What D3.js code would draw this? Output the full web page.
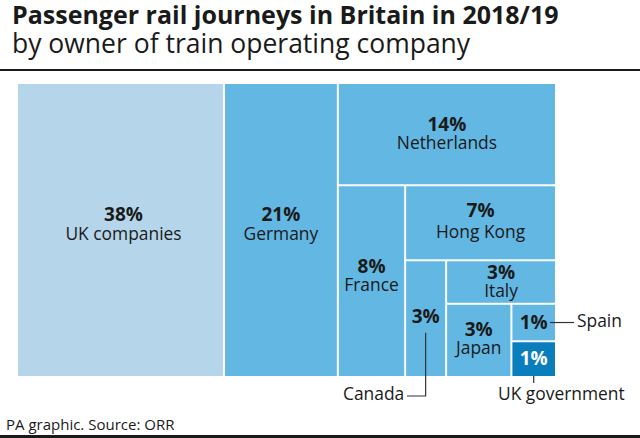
<!DOCTYPE html>
<html>
<head>
<meta charset="utf-8">
<script src="https://cdn.jsdelivr.net/npm/d3@7"></script>
<style>
  html, body { margin: 0; padding: 0; background: #fff; }
  svg { display: block; }
  text { font-family: "Open Sans", "Noto Sans", sans-serif; fill: #1a1a1a; }
</style>
</head>
<body>
<svg id="chart"></svg>
<script>
// owners, largest first, same order the treemap nests them
const owners = ['UK companies', 'Germany', 'Netherlands', 'France', 'Hong Kong', 'Canada', 'Italy', 'Japan', 'Spain', 'UK government'];
const shareLabels = ['38%', '21%', '14%', '8%', '7%', '3%', '3%', '3%', '1%', '1%'];
// unrounded shares
const shares = [38.2, 21, 14, 8.1, 7.1, 3, 3, 3, 1.05, 1];
const fills = ['#b5d6ea', '#63b7e3', '#63b7e3', '#63b7e3', '#63b7e3', '#63b7e3', '#63b7e3', '#63b7e3', '#63b7e3', '#0a7dbd'];
// names drawn next to the block with a leader line instead of inside it
const outsideNames = ['Canada', 'Spain', 'UK government'];

const width = 640;
const height = 438;
const box = { x0: 18, y0: 84, x1: 555, y1: 376 };

// label offsets from cell centre: [share baseline, name baseline, x nudge]
const labelOffsets = {
  'UK companies': [-9, 10, 3],
  'Germany': [-9, 10, 0],
  'Netherlands': [-3, 15, 0],
  'France': [-8, 10, 0],
  'Hong Kong': [-6, 15, 0],
  'Italy': [-3, 15, 0],
  'Japan': [-4, 14, 0],
  'Canada': [4, 0, 0],
  'Spain': [6, 0, 0],
  'UK government': [6, 0, 0]
};

const svg = d3.select('#chart').attr('width', width).attr('height', height);

svg.append('text').attr('x', 12).attr('y', 24)
  .style('font-size', '25px').style('font-weight', 700)
  .text('Passenger rail journeys in Britain in 2018/19');
svg.append('text').attr('x', 12).attr('y', 53)
  .style('font-size', '26.5px')
  .text('by owner of train operating company');
svg.append('rect').attr('x', 0).attr('y', 69).attr('width', width).attr('height', 2).attr('fill', '#1a1a1a');

// nest the list: UK, Germany, then everything else, and so on down
const leaf = j => ({ name: owners[j], share: shareLabels[j], fill: fills[j], value: shares[j] });
function nest(i) {
  if (i === owners.length - 2) return { children: [leaf(i), leaf(i + 1)] };
  return { children: [leaf(i), nest(i + 1)] };
}
const data = { children: [leaf(0), leaf(1), nest(2)] };

const tile = (node, x0, y0, x1, y1) => {
  if (node.depth % 2 === 0) d3.treemapDice(node, x0, y0, x1, y1);
  else d3.treemapSlice(node, x0, y0, x1, y1);
};

const root = d3.hierarchy(data).sum(d => d.value || 0);
d3.treemap()
  .tile(tile)
  .round(false)
  .size([box.x1 - box.x0, box.y1 - box.y0])
  .paddingInner(2)(root);

const plot = svg.append('g').attr('transform', `translate(${box.x0},${box.y0})`);
const cells = plot.selectAll('g').data(root.leaves()).join('g');

cells.append('rect')
  .attr('x', d => d.x0)
  .attr('y', d => d.y0)
  .attr('width', d => d.x1 - d.x0)
  .attr('height', d => d.y1 - d.y0)
  .attr('fill', d => d.data.fill);

const isOutside = d => outsideNames.includes(d.data.name);
const cx = d => (d.x0 + d.x1) / 2;
const cy = d => (d.y0 + d.y1) / 2;

cells.append('text')
  .attr('x', d => cx(d) + labelOffsets[d.data.name][2])
  .attr('y', d => cy(d) + labelOffsets[d.data.name][0])
  .attr('text-anchor', 'middle')
  .style('font-size', '19px')
  .style('font-weight', 700)
  .style('fill', d => d.data.name === 'UK government' ? '#fff' : '#1a1a1a')
  .text(d => d.data.share);

cells.filter(d => !isOutside(d)).append('text')
  .attr('x', d => cx(d) + labelOffsets[d.data.name][2])
  .attr('y', d => cy(d) + labelOffsets[d.data.name][1])
  .attr('text-anchor', 'middle')
  .style('font-size', '17.4px')
  .text(d => d.data.name);

// leader lines, hung off the cells they belong to
const leafByName = name => root.leaves().find(d => d.data.name === name);
const leaders = plot.append('g').attr('fill', 'none').attr('stroke', '#333').attr('stroke-width', 1.2);

const canada = leafByName('Canada');
leaders.append('path').attr('d', `M${cx(canada)},${cy(canada) + 14}V${396 - box.y0}H${407 - box.x0}`);
const spain = leafByName('Spain');
leaders.append('path').attr('d', `M${spain.x1 - 5},${cy(spain)}H${574 - box.x0}`);
const gov = leafByName('UK government');
leaders.append('path').attr('d', `M${cx(gov)},${gov.y1}V${383 - box.y0}`);

const side = (x, y, label) => svg.append('text').attr('x', x).attr('y', y).style('font-size', '17.4px').text(label);
side(343, 400, 'Canada');
side(577, 327, 'Spain');
side(498, 400, 'UK government');

svg.append('text').attr('x', 6).attr('y', 430).style('font-size', '15px').text('PA graphic. Source: ORR');
svg.append('rect').attr('x', 0).attr('y', 435).attr('width', width).attr('height', 3).attr('fill', '#1a1a1a');
</script>
</body>
</html>
